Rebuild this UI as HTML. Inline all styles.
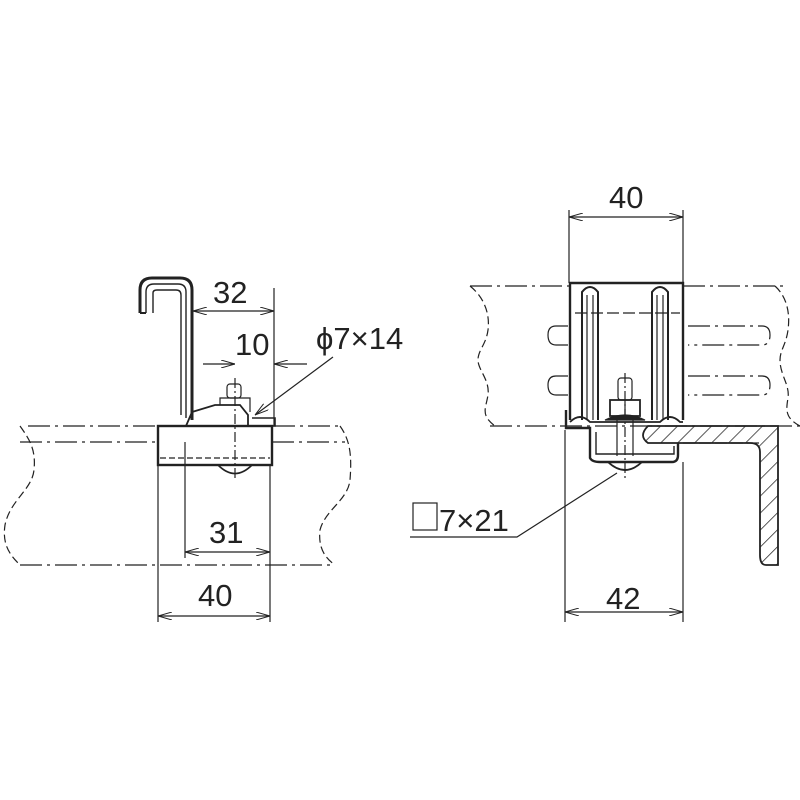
<!DOCTYPE html>
<html><head><meta charset="utf-8"><style>
html,body{margin:0;padding:0;background:#fff}
svg{display:block}
text{font-family:"Liberation Sans",sans-serif;font-size:31px;fill:#222}
</style></head><body>
<svg width="800" height="800" viewBox="0 0 800 800" xmlns="http://www.w3.org/2000/svg">
<defs>
<marker id="a" viewBox="0 0 14 8" refX="14" refY="4" markerWidth="14" markerHeight="8" orient="auto-start-reverse" markerUnits="userSpaceOnUse">
<path d="M0,0 L14,4 L0,8" fill="none" stroke="#222" stroke-width="1"/></marker>
<pattern id="h" width="12" height="12" patternUnits="userSpaceOnUse" patternTransform="rotate(45)">
<line x1="0" y1="0" x2="0" y2="12" stroke="#222" stroke-width="1.5"/></pattern>
</defs>
<g fill="none" stroke="#222" stroke-width="1.2">
<path d="M28,426 H340" stroke-dasharray="22,5,3,5"/>
<path d="M20,442 H160 M272,442 H345" stroke-dasharray="22,5,3,5"/>
<path d="M20,565 H335" stroke-dasharray="22,5,3,5"/>
<path d="M20,426 C30,440 36,450 34,470 C32,490 10,500 5,525 C2,545 10,555 20,565" stroke-dasharray="8,4"/>
<path d="M340,426 C350,440 352,455 350,480 C348,500 325,510 320,530 C318,548 325,558 335,565" stroke-dasharray="8,4"/>
<path d="M140,313 V290 Q140,278 152,278 H180 Q192,278 192,290 V420" stroke-width="3"/>
<path d="M146,313 V292 Q146,284 154,284 H178 Q186,284 186,292 V418" stroke-width="1.4"/>
<path d="M153,313 V293 Q153,290 157,290 H176 Q181,290 181,295 V415" stroke-width="1.4"/>
<path d="M140,313 H146" stroke-width="2"/>
<rect x="158" y="426" width="114" height="39" stroke-width="2.4"/>
<path d="M160,458 H270" stroke-dasharray="6,3"/>
<path d="M186,426 L192,412 L215,405 H240 L248,415 V426" stroke-width="1.8"/>
<path d="M252,418 H275 V426 H250" stroke-width="1.6"/>
<path d="M220,405 V398 H250 V412"/>
<rect x="227" y="384" width="14" height="14" rx="3"/>
<path d="M218,465 Q235,482 252,465" stroke-width="1.6"/>
<path d="M235,378 V480" stroke-dasharray="10,3,2,3"/>
<path d="M274,288 V426 M185,442 V558 M270,465 V558 M158,465 V622 M270,558 V622"/>
<path d="M193,311 H274" marker-start="url(#a)" marker-end="url(#a)"/>
<path d="M203,364 H235" marker-end="url(#a)"/>
<path d="M307,364 H274" marker-end="url(#a)"/>
<path d="M185,552 H270" marker-start="url(#a)" marker-end="url(#a)"/>
<path d="M158,616 H270" marker-start="url(#a)" marker-end="url(#a)"/>
<path d="M333,357 L255,415" marker-end="url(#a)"/>

<path d="M470,286 H570 M683,286 H785" stroke-dasharray="22,5,3,5"/>
<path d="M490,426 H800" stroke-dasharray="22,5,3,5"/>
<path d="M470,286 C485,298 490,315 488,330 C486,345 478,350 478,360 C478,370 490,380 488,395 C486,408 480,415 495,426" stroke-dasharray="8,4"/>
<path d="M775,286 C788,298 790,315 788,330 C786,345 780,350 780,360 C780,375 790,385 788,398 C786,410 785,418 800,426" stroke-dasharray="8,4"/>
<path d="M568,326 H556 Q548,326 548,335 Q548,345 556,345 H568 M568,376 H556 Q548,376 548,385 Q548,395 556,395 H568"/>
<path d="M688,326 H762 Q770,326 770,335 Q770,345 762,345 H688 M688,376 H762 Q770,376 770,385 Q770,395 762,395 H688" stroke-dasharray="22,5,3,5"/>
<path d="M575,313 H680" stroke-dasharray="12,4"/>
<path d="M570,420 V283 H683 V420" stroke-width="2.4"/>
<path d="M582,420 V292 Q590,282 598,292 V420 M652,420 V292 Q660,282 668,292 V420" stroke-width="2"/>
<path d="M587,420 V295 M593,420 V295 M657,420 V295 M663,420 V295"/>
<path d="M570,422 Q580,412 590,422 L660,422 Q670,412 680,422 H683" stroke-width="1.8"/>
<path d="M566,410 V428 H590 V458 Q592,462 600,462 H672 Q678,462 678,455 V443" stroke-width="2.4"/>
<path d="M596,432 V454 H674 V446" stroke-width="1.4"/>
<rect x="610" y="400" width="30" height="16" stroke-width="1.8"/>
<path d="M625,400 V416"/>
<rect x="618" y="378" width="14" height="22" rx="3"/>
<path d="M605,420 Q625,410 645,420 Z" fill="#222"/>
<path d="M617,420 V456 M633,420 V456"/>
<path d="M608,462 Q625,478 642,462" stroke-width="1.8"/>
<path d="M625,373 V480" stroke-dasharray="10,3,2,3"/>
<path d="M648,426 H778 V565 H766 Q760,565 760,555 V452 Q760,443 750,443 H648 Q638,436 648,426 Z" fill="url(#h)" stroke-width="1.8"/>
<path d="M683,443 H760" stroke-dasharray="12,4"/>
<path d="M569,210 V283 M683,210 V283 M565,430 V622 M683,462 V622"/>
<path d="M569,217 H683" marker-start="url(#a)" marker-end="url(#a)"/>
<path d="M565,612 H683" marker-start="url(#a)" marker-end="url(#a)"/>
<path d="M410,537 H517 L617,473"/>
<rect x="413" y="503" width="24" height="27"/>
</g>
<text x="213" y="303">32</text>
<text x="235" y="355">10</text>
<text x="316" y="349">ϕ7×14</text>
<text x="209" y="543">31</text>
<text x="198" y="606">40</text>
<text x="609" y="208">40</text>
<text x="606" y="609">42</text>
<text x="439" y="531">7×21</text>
</svg>
</body></html>
